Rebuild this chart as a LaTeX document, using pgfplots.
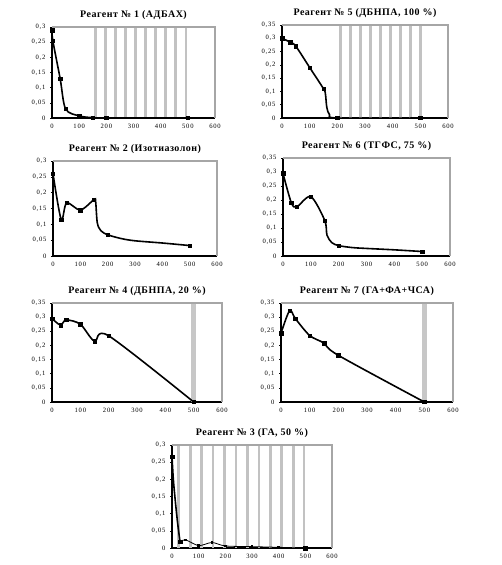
\documentclass[border=0pt]{standalone}
\usepackage{fontspec}
\setmainfont{Liberation Serif}
\newfontfamily\titlefont[LetterSpace=5]{Liberation Serif}
\newfontfamily\tickfont[LetterSpace=12]{Liberation Serif}
\usepackage{pgfplots}
\pgfplotsset{compat=1.18}
\pgfplotsset{
  exc/.style={
    scale only axis,
    anchor=south west,
    xmin=0, xmax=600,
    ymin=0,
    xtick={0,100,...,600},
    scaled ticks=false,
    axis x line*=bottom, axis y line*=left,
    axis line style={black, line width=1.2pt, -},
    tick align=outside,
    major tick length=2pt,
    tick style={black, line width=0.5pt},
    x tick style={draw=none},
    ticklabel style={font=\tickfont\fontsize{6.6}{7.5}\selectfont},
    /pgf/number format/fixed,
    /pgf/number format/precision=2,
    /pgf/number format/assume math mode=true,
    /pgf/number format/use comma,
    yticklabel style={xshift=-1pt},
    xticklabel style={yshift=-0.5pt},
    title style={at={(0.5,1)}, anchor=south, yshift=-2.5pt, font=\titlefont\bfseries\fontsize{10}{11}\selectfont},
    clip=true,
    after end axis/.code={\draw[gray!70, line width=1.4pt] (rel axis cs:0,1) -- (rel axis cs:1,1) -- (rel axis cs:1,0);},
  },
  curve/.style={black, line width=1.6pt, smooth, tension=0.5, mark=none},
  pts/.style={only marks, black, mark=square*, mark size=1.7pt},
  stripes/.style={ycomb, draw=black!24, line width=2.8pt, mark=none, forget plot},
}
\begin{document}
\begin{tikzpicture}
\path (0pt,0pt) rectangle (501pt,565pt);

% Plot 1
\begin{axis}[exc, at={(52pt,447pt)}, width=163pt, height=91pt, ymax=0.3,
  ytick={0,0.05,0.1,0.15,0.2,0.25,0.3}, title={Реагент № 1 (АДБАХ)}]
\addplot[stripes] coordinates {(160,0.3)(197,0.3)(234,0.3)(271,0.3)(308,0.3)(345,0.3)(382,0.3)(419,0.3)(456,0.3)(493,0.3)};
\addplot[curve] coordinates {(0,0.29)(3,0.255)(30,0.13)(50,0.03)(100,0.007)(150,0.001)(200,0)(500,0)};
\addplot[pts] coordinates {(0,0.29)(3,0.255)(30,0.13)(50,0.03)(100,0.007)(150,0.001)(200,0)(500,0)};
\end{axis}

% Plot 5
\begin{axis}[exc, at={(282pt,447pt)}, width=166pt, height=93pt, ymax=0.35,
  ytick={0,0.05,0.1,0.15,0.2,0.25,0.3,0.35}, title={Реагент № 5 (ДБНПА, 100 \%)}]
\addplot[stripes] coordinates {(212,0.35)(248,0.35)(284,0.35)(320,0.35)(356,0.35)(392,0.35)(428,0.35)(464,0.35)(500,0.35)};
\addplot[curve] coordinates {(0,0.30)(30,0.285)(50,0.27)(100,0.19)(150,0.11)(157,0.09)(162,0.04)(172,0.012)(200,0)(500,0)};
\addplot[pts] coordinates {(0,0.30)(30,0.285)(50,0.27)(100,0.19)(150,0.11)(200,0)(500,0)};
\end{axis}

% Plot 2
\begin{axis}[exc, at={(53pt,309pt)}, width=164pt, height=95pt, ymax=0.3,
  ytick={0,0.05,0.1,0.15,0.2,0.25,0.3}, title={Реагент № 2 (Изотиазолон)}]
\addplot[curve] coordinates {(0,0.26)(30,0.115)(50,0.168)(100,0.145)(150,0.178)(156,0.172)(162,0.105)(175,0.08)(200,0.067)(250,0.055)(300,0.048)(400,0.041)(500,0.033)};
\addplot[pts] coordinates {(0,0.26)(30,0.115)(50,0.168)(100,0.145)(150,0.178)(200,0.067)(500,0.033)};
\end{axis}

% Plot 6
\begin{axis}[exc, at={(283pt,309pt)}, width=167pt, height=98pt, ymax=0.35,
  ytick={0,0.05,0.1,0.15,0.2,0.25,0.3,0.35}, title={Реагент № 6 (ТГФС, 75 \%)}]
\addplot[curve] coordinates {(0,0.295)(30,0.19)(50,0.176)(100,0.212)(150,0.127)(158,0.075)(175,0.048)(200,0.037)(250,0.03)(300,0.027)(400,0.022)(500,0.016)};
\addplot[pts] coordinates {(0,0.295)(30,0.19)(50,0.176)(100,0.212)(150,0.127)(200,0.037)(500,0.016)};
\end{axis}

% Plot 4
\begin{axis}[exc, at={(52pt,163pt)}, width=170pt, height=99pt, ymax=0.35,
  ytick={0,0.05,0.1,0.15,0.2,0.25,0.3,0.35}, title={Реагент № 4 (ДБНПА, 20 \%)}]
\addplot[stripes, draw=black!22, line width=4.5pt] coordinates {(500,0.35)};
\addplot[curve] coordinates {(0,0.295)(30,0.272)(50,0.29)(100,0.275)(150,0.215)(200,0.234)(500,0)};
\addplot[pts] coordinates {(0,0.295)(30,0.272)(50,0.29)(100,0.275)(150,0.215)(200,0.234)(500,0)};
\end{axis}

% Plot 7
\begin{axis}[exc, at={(281pt,163pt)}, width=172pt, height=99pt, ymax=0.35,
  ytick={0,0.05,0.1,0.15,0.2,0.25,0.3,0.35}, title={Реагент № 7 (ГА+ФА+ЧСА)}]
\addplot[stripes, draw=black!22, line width=4.5pt] coordinates {(500,0.35)};
\addplot[curve] coordinates {(0,0.243)(30,0.323)(50,0.295)(100,0.235)(150,0.208)(200,0.165)(500,0)};
\addplot[pts] coordinates {(0,0.243)(30,0.323)(50,0.295)(100,0.235)(150,0.208)(200,0.165)(500,0)};
\end{axis}

% Plot 3
\begin{axis}[exc, at={(172pt,17pt)}, width=160pt, height=103pt, ymax=0.3,
  ytick={0,0.05,0.1,0.15,0.2,0.25,0.3}, title={Реагент № 3 (ГА, 50 \%)}]
\addplot[stripes] coordinates {(25,0.3)(68,0.3)(111,0.3)(154,0.3)(197,0.3)(240,0.3)(283,0.3)(326,0.3)(369,0.3)(412,0.3)(455,0.3)(495,0.3)};
\addplot[curve] coordinates {(0,0.266)(5,0.2)(12,0.14)(20,0.08)(30,0.018)};
\addplot[black, line width=0.8pt, smooth, tension=0.5, mark=square*, mark size=0.8pt] coordinates {(30,0.018)(50,0.024)(100,0.007)(150,0.016)(200,0.006)(300,0.004)(400,0.002)(500,0)};
\addplot[pts] coordinates {(0,0.266)(30,0.018)(500,0)};
\end{axis}
\end{tikzpicture}
\end{document}
